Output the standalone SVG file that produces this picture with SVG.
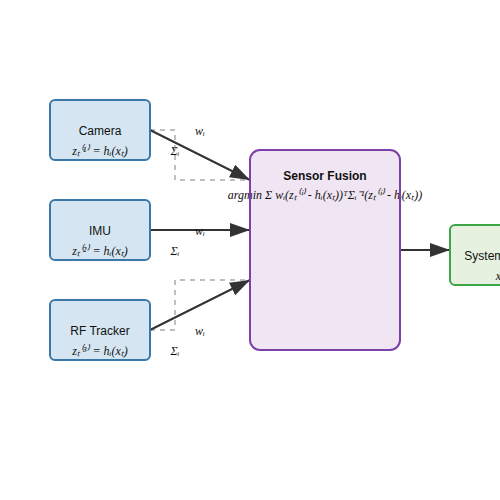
<svg xmlns="http://www.w3.org/2000/svg" width="500" height="500" viewBox="0 0 500 500">
<style>
.sensor{fill:#d5e6f2;stroke:#3878a8;stroke-width:2}
.fusion-fill{fill:#f0e5f2;stroke:none}
.fusion-stroke{fill:none;stroke:#7d3fa8;stroke-width:2}
.state{fill:#e6f2df;stroke:#3ea546;stroke-width:2}
.lbl{font-family:"Liberation Sans",Arial,sans-serif;font-size:12px;fill:#111;text-anchor:middle}
.bold{font-weight:bold}
.math{font-family:"Liberation Serif","Times New Roman",serif;font-style:italic;font-size:12px;fill:#111;text-anchor:middle}
.edge{stroke:#333;stroke-width:2;fill:none}
.dash{stroke:#aaa;stroke-width:1.5;fill:none;stroke-dasharray:5,5}
</style>
<defs>
<marker id="arrow" viewBox="0 0 10 7" refX="10" refY="3.5" markerWidth="10" markerHeight="7" orient="auto">
<path d="M0,0 L10,3.5 L0,7 z" fill="#333"/>
</marker>
</defs>
<rect width="500" height="500" fill="#fff"/>
<g id="connectors">
<path class="dash" d="M150,130 H175 V180 H250"/>
<path class="dash" d="M150,230 H250"/>
<path class="dash" d="M150,330 H175 V280 H250"/>
<line class="edge" x1="150" y1="130" x2="250" y2="180" marker-end="url(#arrow)"/>
<line class="edge" x1="150" y1="230" x2="250" y2="230" marker-end="url(#arrow)"/>
<line class="edge" x1="150" y1="330" x2="250" y2="280" marker-end="url(#arrow)"/>
<line class="edge" x1="400" y1="250" x2="450" y2="250" marker-end="url(#arrow)"/>
<text class="math" x="200" y="135">wᵢ</text>
<text class="math" x="175" y="155">Σᵢ</text>
<text class="math" x="200" y="235">wᵢ</text>
<text class="math" x="175" y="255">Σᵢ</text>
<text class="math" x="200" y="335">wᵢ</text>
<text class="math" x="175" y="355">Σᵢ</text>
</g>
<g id="camera">
<rect class="sensor" x="50" y="100" width="100" height="60" rx="5"/>
<text class="lbl" x="100" y="135">Camera</text>
<text class="math" x="100" y="155">zₜ⁽¹⁾ = hᵢ(xₜ)</text>
</g>
<g id="imu">
<rect class="sensor" x="50" y="200" width="100" height="60" rx="5"/>
<text class="lbl" x="100" y="235">IMU</text>
<text class="math" x="100" y="255">zₜ⁽²⁾ = hᵢ(xₜ)</text>
</g>
<g id="rf">
<rect class="sensor" x="50" y="300" width="100" height="60" rx="5"/>
<text class="lbl" x="100" y="335">RF Tracker</text>
<text class="math" x="100" y="355">zₜ⁽³⁾ = hᵢ(xₜ)</text>
</g>
<g id="fusion">
<rect class="fusion-fill" x="250" y="150" width="150" height="200" rx="10"/>
<text class="lbl bold" x="325" y="180">Sensor Fusion</text>
<text class="math" x="325" y="199">argmin Σ wᵢ(zₜ⁽ⁱ⁾ - hᵢ(xₜ))ᵀΣᵢ⁻¹(zₜ⁽ⁱ⁾ - hᵢ(xₜ))</text>
<rect class="fusion-stroke" x="250" y="150" width="150" height="200" rx="10"/>
</g>
<g id="state">
<rect class="state" x="450" y="225" width="100" height="60" rx="5"/>
<text class="lbl" x="500" y="260">System State</text>
<text class="math" x="500" y="280">xₜ</text>
</g>
</svg>
